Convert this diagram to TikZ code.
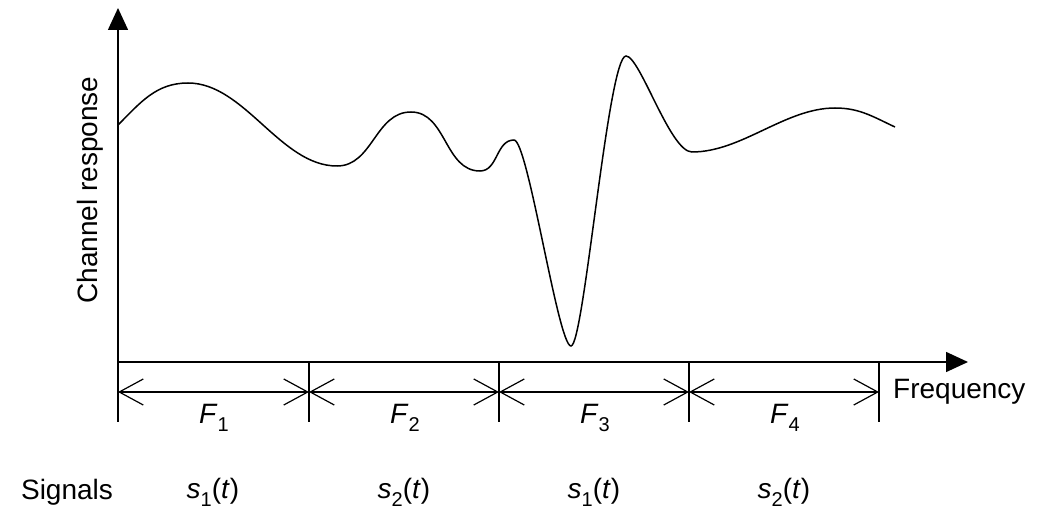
\documentclass[tikz,border=0pt]{standalone}
\usepackage{fontspec}
\setmainfont{Liberation Sans}
\usetikzlibrary{arrows.meta}
\newcommand{\subs}[1]{\raisebox{-0.28em}{\fontsize{20}{20}\selectfont #1}}
\begin{document}
\begin{tikzpicture}[x=1pt,y=1pt,
  lbl/.style={font=\fontsize{28}{30}\selectfont, inner sep=0pt},
  axisline/.style={line width=1.5pt, -{Triangle[length=22pt,width=20pt]}},
  tickline/.style={line width=1.5pt},
  bandarrow/.style={line width=1.2pt, {Straight Barb[length=24pt,width=26pt,line width=1.2pt]}-{Straight Barb[length=24pt,width=26pt,line width=1.2pt]}},
  curveline/.style={line width=1.5pt}]
\useasboundingbox (0,0) rectangle (1044,523);
% axes
\coordinate (O) at (118,161);
\coordinate (ytip) at (118,515);
\coordinate (xtip) at (968,161);
\draw[axisline] (O) -- (ytip);
\draw[axisline] (O) -- (xtip);
% ticks
\foreach \n/\x in {t0/118,t1/309,t2/499,t3/689,t4/879}{
  \coordinate (\n top) at (\x,161);
  \coordinate (\n bot) at (\x,101);
  \coordinate (\n mid) at (\x,131);
  \draw[tickline] (\n top) -- (\n bot);
}
\draw[bandarrow] (t0mid) -- (t1mid);
\draw[bandarrow] (t1mid) -- (t2mid);
\draw[bandarrow] (t2mid) -- (t3mid);
\draw[bandarrow] (t3mid) -- (t4mid);
% band labels
\node[lbl] (F1) at (214,105) {\textit{F}\subs{1}};
\node[lbl] (F2) at (405,105) {\textit{F}\subs{2}};
\node[lbl] (F3) at (595,105) {\textit{F}\subs{3}};
\node[lbl] (F4) at (785,105) {\textit{F}\subs{4}};
% axis labels
\node[lbl, anchor=west] (freq) at (893,131) {Frequency};
\node[lbl, rotate=90] (resp) at (90,333) {Channel response};
% signals
\node[lbl] (sig) at (67,31) {Signals};
\node[lbl] (s1a) at (213,31) {\textit{s}\subs{1}(\textit{t})};
\node[lbl] (s2a) at (404,31) {\textit{s}\subs{2}(\textit{t})};
\node[lbl] (s1b) at (594,31) {\textit{s}\subs{1}(\textit{t})};
\node[lbl] (s2b) at (784,31) {\textit{s}\subs{2}(\textit{t})};
% channel response curve
\draw[curveline] (118,398) to[out=45,in=180] (188,440)
  to[out=0,in=180,looseness=0.85] (337,357)
  to[out=0,in=180] (411,411)
  to[out=0,in=180] (480,352)
  to[out=0,in=180] (514,383)
  .. controls (528,383) and (558,177) .. (571,177)
  .. controls (584,177) and (608,467) .. (626,467)
  .. controls (640,467) and (670,371) .. (692,371)
  to[out=0,in=180,looseness=0.85] (835,415)
  to[out=0,in=155] (895,396);
\end{tikzpicture}
\end{document}
